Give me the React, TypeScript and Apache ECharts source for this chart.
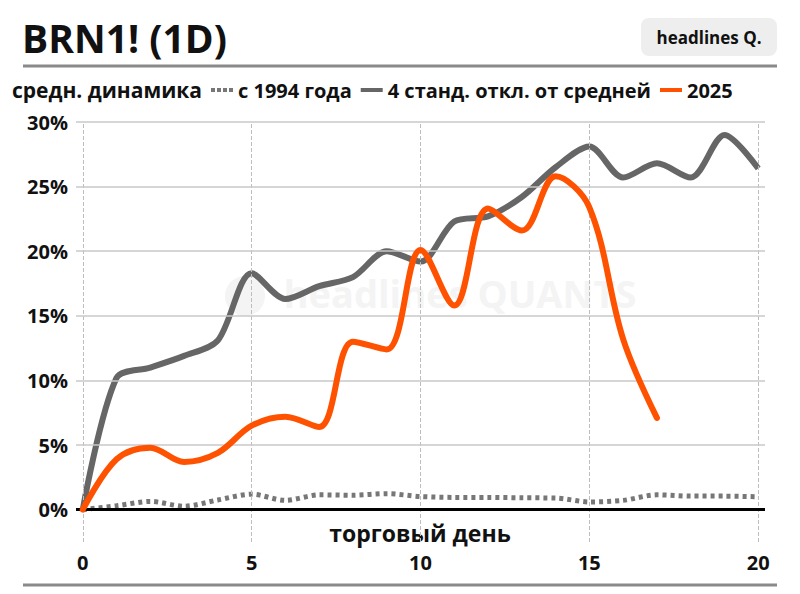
import React, { useEffect, useRef } from "react";
import * as echarts from "echarts";

const days = [0, 1, 2, 3, 4, 5, 6, 7, 8, 9, 10, 11, 12, 13, 14, 15, 16, 17, 18, 19, 20];
const avgSince1994 = [0, 0.3, 0.64, 0.27, 0.75, 1.2, 0.72, 1.15, 1.12, 1.24, 1.02, 0.95, 0.95, 0.92, 0.9, 0.6, 0.72, 1.15, 1.05, 1.05, 1.0];
const std4 = [0, 10.2, 11.0, 11.9, 13.1, 18.3, 16.3, 17.3, 18.0, 20.0, 19.2, 22.3, 22.7, 24.2, 26.5, 28.1, 25.7, 26.8, 25.7, 29.0, 26.4];
const y2025 = [0, 3.9, 4.8, 3.7, 4.4, 6.5, 7.2, 6.4, 13.0, 12.4, 20.1, 15.8, 23.3, 21.6, 25.8, 23.4, 13.2, 7.1];
const yTicks = [0, 5, 10, 15, 20, 25, 30];
const xTicks = [0, 5, 10, 15, 20];
const names = ["с 1994 года", "4 станд. откл. от средней", "2025"];

export default function App() {
  const ref = useRef<HTMLDivElement>(null);
  useEffect(() => {
    const chart = echarts.init(ref.current!, null, { renderer: "svg" });
    const ff = "'Open Sans', sans-serif";
    const pairs = (arr: number[]) => arr.map((v, i) => [days[i], v]);
    const dotted = "path://M0,0h4v4h-4z M6,0h4v4h-4z M12,0h4v4h-4z M18,0h4v4h-4z";
    chart.setOption({
      animation: false,
      backgroundColor: "#ffffff",
      textStyle: { fontFamily: ff },
      grid: { left: 76, right: 35, top: 122, bottom: 52 },
      xAxis: {
        type: "value",
        min: -0.2,
        max: 20.2,
        axisLine: { show: false },
        axisTick: { show: false },
        splitLine: { show: false },
        axisLabel: {
          customValues: xTicks,
          margin: 10,
          fontSize: 20,
          fontWeight: "bold",
          color: "#111",
          fontFamily: ff,
        },
      },
      yAxis: {
        type: "value",
        min: -2.5,
        max: 30,
        axisLine: { show: false },
        axisTick: { show: false },
        splitLine: { show: false },
        axisLabel: {
          customValues: yTicks,
          formatter: "{value}%",
          margin: 8,
          fontSize: 20,
          fontWeight: "bold",
          color: "#111",
          fontFamily: ff,
        },
      },
      legend: {
        left: 206,
        top: 75,
        itemWidth: 22,
        itemHeight: 4,
        itemGap: 9,
        data: [
          { name: names[0], icon: dotted },
          { name: names[1], icon: "rect" },
          { name: names[2], icon: "rect" },
        ],
        textStyle: { fontSize: 20, fontWeight: "bold", color: "#111", fontFamily: ff },
      },
      graphic: [
        {
          type: "circle",
          z: 0,
          shape: { cx: 245, cy: 296, r: 20 },
          style: { fill: "#f4f4f4" },
        },
        {
          type: "text",
          z: 0,
          x: 460,
          y: 293,
          style: {
            text: "headlines QUANTS",
            font: `bold 38px ${ff}`,
            fill: "#f4f4f4",
            align: "center",
            verticalAlign: "middle",
          },
        },
        {
          type: "text",
          x: 22,
          y: 37,
          style: {
            text: "BRN1! (1D)",
            font: `bold 39px ${ff}`,
            fill: "#111",
            align: "left",
            verticalAlign: "middle",
          },
        },
        {
          type: "rect",
          shape: { x: 641, y: 18, width: 136, height: 38, r: 8 },
          style: { fill: "#eeeeee" },
        },
        {
          type: "text",
          x: 709,
          y: 37,
          style: {
            text: "headlines Q.",
            font: `bold 17px ${ff}`,
            fill: "#111",
            align: "center",
            verticalAlign: "middle",
          },
        },
        {
          type: "line",
          shape: { x1: 23, y1: 66, x2: 777, y2: 66 },
          style: { stroke: "#8a8a8a", lineWidth: 3 },
        },
        {
          type: "line",
          shape: { x1: 23, y1: 585, x2: 777, y2: 585 },
          style: { stroke: "#8a8a8a", lineWidth: 3 },
        },
        {
          type: "text",
          x: 12,
          y: 90,
          style: {
            text: "средн. динамика",
            font: `bold 21px ${ff}`,
            fill: "#111",
            align: "left",
            verticalAlign: "middle",
          },
        },
        {
          type: "text",
          x: 420,
          y: 533,
          style: {
            text: "торговый день",
            font: `bold 23px ${ff}`,
            fill: "#111",
            align: "center",
            verticalAlign: "middle",
          },
        },
      ],
      series: [
        {
          type: "line",
          data: [],
          z: 1,
          silent: true,
          markLine: {
            silent: true,
            symbol: ["none", "none"],
            label: { show: false },
            emphasis: { disabled: true },
            data: [
              ...xTicks.map((v) => ({ xAxis: v, lineStyle: { type: "dashed", color: "#bdbdbd", width: 1 } })),
              ...yTicks
                .filter((v) => v > 0)
                .map((v) => ({ yAxis: v, lineStyle: { type: "solid", color: "#c8c8c8", width: 1.5 } })),
              { yAxis: 0, lineStyle: { type: "solid", color: "#000", width: 3 } },
            ],
          },
        },
        {
          name: names[0],
          type: "line",
          data: pairs(avgSince1994),
          smooth: 0.3,
          symbol: "none",
          z: 3,
          lineStyle: { color: "#777", width: 5, type: [4, 4], cap: "butt" },
          itemStyle: { color: "#777" },
        },
        {
          name: names[1],
          type: "line",
          data: pairs(std4),
          smooth: 0.3,
          symbol: "none",
          z: 4,
          lineStyle: { color: "#666", width: 6 },
          itemStyle: { color: "#666" },
        },
        {
          name: names[2],
          type: "line",
          data: pairs(y2025),
          smooth: 0.35,
          symbol: "none",
          z: 5,
          lineStyle: { color: "#ff5200", width: 6, cap: "round" },
          itemStyle: { color: "#ff5200" },
        },
      ],
    });
    return () => chart.dispose();
  }, []);
  return <div ref={ref} style={{ position: "fixed", left: 0, top: 0, width: 800, height: 594 }} />;
}
